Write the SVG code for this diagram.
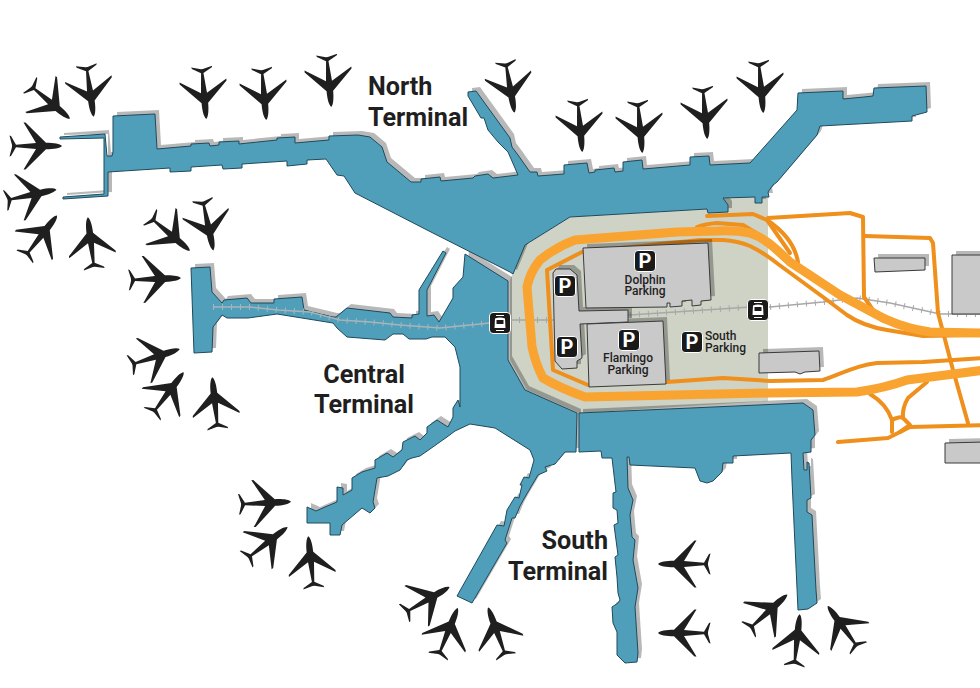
<svg xmlns="http://www.w3.org/2000/svg" width="980" height="688" viewBox="0 0 980 688">
<style>
.t{fill:#4f9fba;stroke:#1f4a5c;stroke-width:1;stroke-linejoin:round}
.sh{fill:#000;fill-opacity:.28;stroke:none}
.b{fill:#c9c9c9;stroke:#3a3a3a;stroke-width:1}
.thick{fill:none;stroke:#f9a331;stroke-width:9;stroke-linejoin:round;stroke-linecap:round}
.thin{fill:none;stroke:#ef8f1c;stroke-width:4;stroke-linejoin:round;stroke-linecap:round}
.lb{font-family:Roboto,"Liberation Sans",sans-serif;font-weight:700;font-size:25.2px;fill:#1f1f1f}
.pl{font-family:Roboto,"Liberation Sans",sans-serif;font-weight:500;font-size:12px;fill:#1f1f1f}
.ps{font-family:Roboto,"Liberation Sans",sans-serif;font-weight:700;font-size:20px;fill:#fff;text-anchor:middle}
</style>
<defs>
<path id="plane" fill="#1f1f1f" d="M26,0C24,-2.200 18,-3.300 10,-3.300L-10.500,-23.500L-12.500,-23.500L0,-3L-20,-1.200L-25,-10L-26.500,-10.500L-24,-1L-24,1L-26.500,10.500L-25,10L-20,1.200L0,3L-12.500,23.500L-10.500,23.500L10,3.300C18,3.300 24,2.200 26,0Z"/>
<g id="P"><rect x="-10.500" y="-10.500" width="21" height="21" rx="3.500" fill="#1a1a1a" stroke="#fff" stroke-width="1"/><text class="ps" y="7">P</text></g>
<g id="tram"><rect x="-10.500" y="-10.500" width="21" height="21" rx="3.500" fill="#1a1a1a" stroke="#fff" stroke-width="1"/><path d="M-5,-4.500Q0,-6.500 5,-4.500L5.500,5L-5.500,5Z" fill="#fff"/><rect x="-3.500" y="-3" width="7" height="4" fill="#1a1a1a"/><path d="M-4,-7.500H4M-4,7.500H4" stroke="#fff" stroke-width="1.200"/></g>
<path id="tN" d="M60,137L105,134L107,156L112,156L113,152L113,116L155,114L157,149L191,146L191,144L209,143L210,146L219,145L219,142L239,141L239,144L277,140L277,138L295,137L295,143L329,140L329,136L358,135L370,137L382,147L387,162L411,182L421,182L421,179L440,177L441,181L473,178L475,176L488,174L493,178L518,175L508,152L498,142L488,130L484,118L481,118L468,96L468,92L476,91L510,138L512,147L518,155L530,172L537,172L538,176L564,174L564,165L587,163L589,173L595,172L595,170L614,168L615,172L623,171L623,162L642,160L643,169L690,165L690,157L709,156L710,165L750,163L797,110L798,93L843,91L843,99L864,97L873,96L874,88L926,86L927,112L912,116L912,121L820,126L817,135L777,182L773,185L768,192L769,197L762,197L762,203L755,203L755,197L723,198L728,205L728,212L708,213L707,209L570,217L525,245L513,274L510,272L427,230L355,193L344,176L337,175L326,159L307,160L307,164L287,166L287,161L242,164L242,168L223,169L222,165L191,167L191,171L170,172L170,168L108,172L108,196L63,199L63,197L104,194L104,138L60,139Z"/>
<path id="tC" d="M191,268L210,267L212,292L222,303L224,300L247,298L251,303L274,303L274,299L302,297L304,310L333,317L336,317L347,308L390,313L393,317L412,318L412,315L419,314L419,290L443,251L446,253L427,290L427,316L434,315L439,322L453,298L453,288L463,277L465,254L508,281L508,360L525,390L577,413L576,452L565,452L555,464L545,467L547,471L538,475L525,497L520,506L515,518L512,518L505,540L507,543L472,603L457,596L497,525L504,526L507,510L515,497L519,498L522,485L520,485L524,477L529,478L534,460L530,450L495,428L470,424L455,431L447,437L430,449L420,456L412,458L407,460L400,470L388,476L377,478L373,502L375,508L370,513L362,508L342,525L340,535L330,535L330,523L307,523L307,507L316,511L325,507L337,502L337,487L343,488L343,495L352,490L352,478L362,472L375,468L375,460L387,453L393,457L402,450L403,442L415,436L420,440L427,433L427,427L437,420L448,427L453,417L453,408L458,400L460,407L460,367L455,347L445,337L432,337L426,339L409,339L403,334L393,334L385,340L347,337L337,328L333,323L277,314L248,318L227,318L222,315L213,327L212,352L194,353Z"/>
<path id="tS" d="M579,413L803,403L813,410L815,435L811,440L811,452L803,453L804,470L807,470L807,462L809,463L811,498L807,500L807,512L812,515L816,590L817,603L808,609L798,610L792,480L791,453L733,456L733,463L723,463L722,472L713,481L707,483L700,481L695,468L630,465L629,457L627,457L628,488L633,500L630,515L632,537L635,540L633,560L638,588L635,607L638,653L637,662L625,663L617,655L617,632L613,623L612,607L618,603L620,600L618,593L617,577L615,557L618,555L614,525L618,523L617,510L613,508L613,493L616,492L612,458L602,458L601,451L579,452Z"/>
<path id="dolphin" d="M583,248L708,243L711,300L701,301L701,305L692,306L692,300L682,301L682,306L670,307L670,303L667,303L667,307L586,308Z"/>
<path id="lshape" d="M553,273L556,269L570,269L577,275L579,311L628,310L628,322L580,324L582,358L577,361L577,368L562,369L555,361Z"/>
<path id="flamingo" d="M587,324L663,321L666,384L589,387Z"/>
<path id="bld1" d="M874,258L925,258L925,270L875,272Z"/>
<path id="bld2" d="M759,353L819,351L820,371L805,372L800,374L795,372L759,373Z"/>
<path id="bld3" d="M952,255L985,255L985,314L952,314Z"/>
<path id="bld4" d="M945,443L985,442L985,463L945,463Z"/>
</defs>
<rect width="980" height="688" fill="#fff"/>
<path d="M510,280L525,245L570,217L707,209L725,198L768,196L768,401L579,413L527,390L510,360Z" fill="#ced3c5"/>
<use href="#tN" class="sh" x="4" y="-4"/><use href="#tC" class="sh" x="4" y="-4"/><use href="#tS" class="sh" x="4" y="-4"/>
<g id="rail" fill="none" stroke="#a8a8a8">
<path stroke-width="1.500" d="M510,320L553,320L630,315L750,307L770,307L823,302L857,298L890,303L940,314L980,314"/>
<path stroke-width="6" stroke-dasharray="1 8" d="M510,320L553,320M630,315L750,307M770,307L823,302L857,298L890,303L940,314L980,314"/>
</g>
<g id="road">
<path class="thin" d="M588,385L553,370L547,270L582,252L700,240L723,240Q738,241 750,246C760,251 768,256 778,264L823,297L847,315C860,324 875,328 887,330L923,336L985,335"/>
<path class="thin" d="M667,382L723,378L770,381L823,380C850,370 860,365 877,363L923,362L985,358"/>
<path class="thin" d="M707,216L753,214L767,220C785,232 795,245 798,262"/>
<path class="thin" d="M767,220L790,253"/>
<path class="thin" d="M697,227Q705,224 717,223L743,225L763,237L790,260"/>
<path class="thin" d="M768,218L850,213L863,217L864,297L873,310"/>
<path class="thin" d="M865,236L930,238L933,243L938,313L953,370L968,423"/>
<path class="thin" d="M985,425L910,427L900,432L888,438L838,442"/>
<path class="thin" d="M870,394C880,400 888,408 892,420L892,432M892,420Q900,416 903,418L910,425L900,432M903,418Q902,408 908,398L927,382"/>
<path class="thick" d="M985,333L930,332C905,328 895,323 883,318L840,295L790,262C775,248 765,238 750,233Q735,230 717,231L677,232L575,240Q556,247 540,260Q530,272 527,287L532,347Q536,365 543,378Q560,388 585,397L768,393L857,392Q885,388 907,380L985,370"/>
</g>
<use href="#dolphin" class="sh" x="4" y="-4"/><use href="#flamingo" class="sh" x="4" y="-4"/><use href="#lshape" class="sh" x="4" y="-4"/><use href="#bld1" class="sh" x="4" y="-4"/><use href="#bld2" class="sh" x="4" y="-4"/><use href="#bld3" class="sh" x="4" y="-4"/><use href="#bld4" class="sh" x="4" y="-4"/>
<g id="buildings" class="b"><use href="#lshape"/><use href="#dolphin"/><use href="#flamingo"/><use href="#bld1"/><use href="#bld2"/><use href="#bld3"/><use href="#bld4"/></g>
<g id="terminals" class="t"><use href="#tN"/><use href="#tC"/><use href="#tS"/></g>
<g id="railPier" fill="none" stroke="#a9b4b8">
<path stroke-width="1.500" d="M213,307L250,307L278,310L310,312L340,320L370,322L400,325L440,328L470,325L490,323"/>
<path stroke-width="6" stroke-dasharray="1 8" d="M213,307L250,307L278,310L310,312L340,320L370,322L400,325L440,328L470,325L490,323"/>
</g>
<g id="planes">
<use href="#plane" transform="translate(50,102) rotate(40)"/>
<use href="#plane" transform="translate(90,91) rotate(82)"/>
<use href="#plane" transform="translate(36,146)"/>
<use href="#plane" transform="translate(31,195) rotate(-12)"/>
<use href="#plane" transform="translate(41,236) rotate(-52)"/>
<use href="#plane" transform="translate(91,243) rotate(-97)"/>
<use href="#plane" transform="translate(170,234) rotate(40)"/>
<use href="#plane" transform="translate(208,225) rotate(78)"/>
<use href="#plane" transform="translate(155,279) rotate(-2)"/>
<use href="#plane" transform="translate(155,357) rotate(-18)"/>
<use href="#plane" transform="translate(168,393) rotate(-53)"/>
<use href="#plane" transform="translate(215,403) rotate(-96)"/>
<use href="#plane" transform="translate(265,503) rotate(-3)"/>
<use href="#plane" transform="translate(267,543) rotate(-38)"/>
<use href="#plane" transform="translate(311,562) rotate(-96)"/>
<use href="#plane" transform="translate(427,600) rotate(-30)"/>
<use href="#plane" transform="translate(448,632) rotate(-68)"/>
<use href="#plane" transform="translate(497,632) rotate(-110)"/>
<use href="#plane" transform="translate(684,564) rotate(180)"/>
<use href="#plane" transform="translate(684,633) rotate(180)"/>
<use href="#plane" transform="translate(768,612) rotate(-42)"/>
<use href="#plane" transform="translate(797,640) rotate(-84)"/>
<use href="#plane" transform="translate(843,627) rotate(-126)"/>
<use href="#plane" transform="translate(204,93) rotate(85)"/>
<use href="#plane" transform="translate(264,94) rotate(85)"/>
<use href="#plane" transform="translate(329,81) rotate(85)"/>
<use href="#plane" transform="translate(510,87) rotate(80)"/>
<use href="#plane" transform="translate(580,126) rotate(85)"/>
<use href="#plane" transform="translate(640,127) rotate(85)"/>
<use href="#plane" transform="translate(705,113) rotate(85)"/>
<use href="#plane" transform="translate(761,87) rotate(85)"/>
</g>
<g id="icons">
<use href="#P" x="645" y="261"/><use href="#P" x="565" y="286"/><use href="#P" x="567" y="347"/><use href="#P" x="629" y="340"/><use href="#P" x="692" y="342"/>
<use href="#tram" x="500" y="323"/><use href="#tram" x="758" y="310"/>
</g>
<g id="labels">
<text class="lb" x="368" y="95">North</text>
<text class="lb" x="368" y="126">Terminal</text>
<text class="lb" x="364" y="383" text-anchor="middle">Central</text>
<text class="lb" x="364" y="413" text-anchor="middle">Terminal</text>
<text class="lb" x="608" y="549" text-anchor="end">South</text>
<text class="lb" x="608" y="580" text-anchor="end">Terminal</text>
<text class="pl" x="645" y="284" text-anchor="middle">Dolphin</text>
<text class="pl" x="645" y="295" text-anchor="middle">Parking</text>
<text class="pl" x="628" y="362" text-anchor="middle">Flamingo</text>
<text class="pl" x="628" y="374" text-anchor="middle">Parking</text>
<text class="pl" x="705" y="340">South</text>
<text class="pl" x="705" y="352">Parking</text>
</g>
</svg>
